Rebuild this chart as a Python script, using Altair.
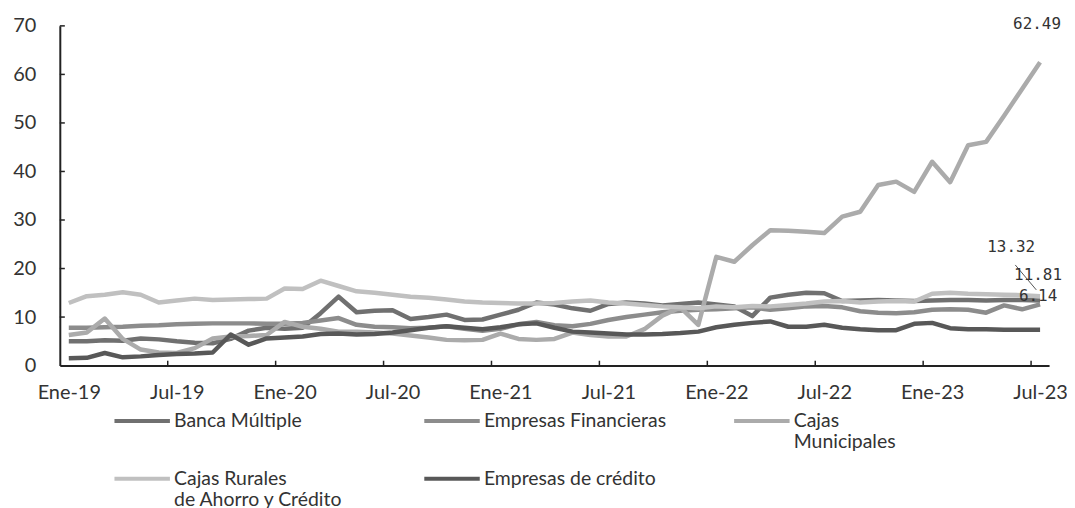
import json
import altair as alt
import pandas as pd

meses = ["Ene", "Feb", "Mar", "Abr", "May", "Jun", "Jul", "Ago", "Set", "Oct", "Nov", "Dic"]
periodos = [f"{m}-{a}" for a in ["19", "20", "21", "22", "23"] for m in meses][:55]

series = ["Banca Múltiple", "Empresas Financieras", "Cajas Municipales",
          "Cajas Rurales de Ahorro y Crédito", "Empresas de crédito"]
colores = ["#707070", "#8c8c8c", "#ababab", "#c0c0c0", "#585858"]

banca_multiple = [5.0, 5.0, 5.2, 5.1, 5.6, 5.4, 5.0, 4.7, 4.6, 5.5,
                  7.2, 7.8, 7.6, 7.8, 10.8, 14.2, 11.0, 11.3, 11.4, 9.6,
                  10.0, 10.5, 9.4, 9.5, 10.5, 11.5, 13.0, 12.6, 11.8, 11.3,
                  12.7, 13.0, 12.8, 12.4, 12.7, 13.0, 12.6, 12.2, 10.2, 14.0,
                  14.6, 15.0, 14.9, 13.3, 13.4, 13.5, 13.4, 13.3, 13.4, 13.5,
                  13.5, 13.4, 13.5, 13.5, 13.4]
empresas_financieras = [7.8, 7.8, 7.9, 8.0, 8.2, 8.3, 8.5, 8.6, 8.7, 8.7,
                        8.7, 8.6, 8.6, 8.8, 9.3, 9.8, 8.4, 8.0, 7.9, 7.7,
                        7.8, 8.1, 7.6, 7.2, 7.6, 8.5, 9.0, 8.3, 8.1, 8.6,
                        9.4, 10.0, 10.5, 11.0, 11.3, 11.5, 11.6, 11.8, 12.0, 11.5,
                        11.8, 12.2, 12.3, 12.0, 11.2, 10.9, 10.8, 11.0, 11.5, 11.6,
                        11.5, 10.9, 12.4, 11.6, 12.6]
cajas_municipales = [6.3, 6.8, 9.7, 5.5, 3.3, 2.7, 2.6, 3.6, 5.6, 6.0,
                     6.1, 6.3, 9.0, 8.0, 7.6, 7.0, 7.0, 6.8, 6.6, 6.2,
                     5.8, 5.3, 5.2, 5.3, 6.6, 5.5, 5.3, 5.5, 6.8, 6.3,
                     6.0, 6.0, 7.5, 10.3, 12.0, 8.4, 22.4, 21.4, 24.8, 27.9,
                     27.8, 27.6, 27.3, 30.7, 31.7, 37.2, 37.9, 35.8, 42.0, 37.8,
                     45.4, 46.1, 51.5, 57.0, 62.49]
cajas_rurales = [12.9, 14.3, 14.6, 15.1, 14.6, 13.0, 13.4, 13.8, 13.5, 13.6,
                 13.7, 13.8, 15.9, 15.8, 17.5, 16.4, 15.3, 15.0, 14.6, 14.2,
                 14.0, 13.6, 13.2, 13.0, 12.9, 12.8, 12.8, 12.9, 13.2, 13.4,
                 13.0, 12.8, 12.5, 12.2, 12.0, 11.8, 12.2, 12.0, 12.3, 12.2,
                 12.5, 12.8, 13.2, 13.3, 13.0, 13.2, 13.3, 13.2, 14.8, 15.0,
                 14.8, 14.7, 14.6, 14.5, 14.3]
empresas_credito = [1.5, 1.6, 2.6, 1.7, 1.9, 2.2, 2.4, 2.5, 2.7, 6.4,
                    4.3, 5.6, 5.8, 6.0, 6.5, 6.6, 6.4, 6.5, 6.8, 7.3,
                    7.8, 8.1, 7.8, 7.5, 7.9, 8.5, 8.7, 7.8, 7.0, 6.8,
                    6.6, 6.4, 6.4, 6.5, 6.7, 7.0, 7.9, 8.4, 8.8, 9.1,
                    8.0, 8.0, 8.4, 7.8, 7.5, 7.3, 7.3, 8.6, 8.8, 7.7,
                    7.5, 7.5, 7.4, 7.4, 7.4]

valores = [banca_multiple, empresas_financieras, cajas_municipales, cajas_rurales, empresas_credito]

etiquetas_texto = ["62.49", "13.32", "11.81", "6.14"]
etiquetas_valor = [62.49, 13.32, 11.81, 6.14]

y_ticks = [0, 10, 20, 30, 40, 50, 60, 70]
x_label_idx = list(range(0, 55, 6))

rows = []
for name, vals in zip(series, valores):
    for i, v in enumerate(vals):
        rows.append({"serie": name, "t": i + 0.5, "valor": v})
df = pd.DataFrame(rows)

FONT = "Lato"
TXT = "#333333"

xscale = alt.Scale(domain=[0, 55], nice=False, zero=False)
yscale = alt.Scale(domain=[0, 70], nice=False)

label_expr = json.dumps(periodos) + "[floor(datum.value)]"
# every legend label has two lines so all entries share the same layout
legend_expr = ("datum.label == 'Cajas Municipales' ? ['Cajas', 'Municipales'] : "
               "datum.label == 'Cajas Rurales de Ahorro y Crédito' ? ['Cajas Rurales', 'de Ahorro y Crédito'] : [datum.label, '']")

lines = alt.Chart(df).mark_line(strokeWidth=4.5, strokeJoin="round").encode(
    x=alt.X("t:Q", scale=xscale, title=None,
            axis=alt.Axis(values=[i + 0.5 for i in x_label_idx], labelExpr=label_expr,
                          ticks=False, grid=False, labelFont=FONT, labelFontSize=20,
                          labelColor=TXT, labelPadding=17, domainColor="#222222",
                          domainWidth=2, labelFlush=False)),
    y=alt.Y("valor:Q", scale=yscale, title=None,
            axis=alt.Axis(values=y_ticks, ticks=False, grid=False, labelFont=FONT,
                          labelFontSize=20, labelColor=TXT, labelPadding=24,
                          domainColor="#222222", domainWidth=2)),
    color=alt.Color("serie:N", scale=alt.Scale(domain=series, range=colores), sort=series,
                    legend=alt.Legend(orient="none", legendX=55.7, legendY=369.6,
                                      direction="horizontal", columns=3, title=None,
                                      symbolType="M-1.12,0H1.12", symbolSize=2470,
                                      symbolStrokeWidth=4, labelFont=FONT,
                                      labelFontSize=19.5, labelColor=TXT,
                                      labelExpr=legend_expr, labelLimit=400,
                                      gridAlign="all", columnPadding=59, rowPadding=0,
                                      padding=0, labelOffset=5)),
    order=alt.Order("t:Q"),
)

xt = pd.DataFrame({"t": [float(i) for i in x_label_idx[1:]]})
xticks = alt.Chart(xt).mark_rule(color="#222222", strokeWidth=1.5).encode(
    x=alt.X("t:Q", scale=xscale), y=alt.datum(0), y2=alt.datum(1.0))

yt = pd.DataFrame({"v": y_ticks[1:]})
yticks = alt.Chart(yt).mark_rule(color="#222222", strokeWidth=1.5).encode(
    y=alt.Y("v:Q", scale=yscale), x=alt.datum(0), x2=alt.datum(0.28))

ann = pd.DataFrame({"texto": etiquetas_texto, "valor": etiquetas_valor, "t": [54.5] * 4})
offsets = [(-3, -38), (-29, -54), (-2, -33), (-2, -40)]
texts = []
for k, (dx, dy) in enumerate(offsets):
    texts.append(alt.Chart(ann.iloc[[k]]).mark_text(font="DejaVu Sans Mono", fontSize=16,
                                                     color=TXT, dx=dx, dy=dy).encode(
        x=alt.X("t:Q", scale=xscale), y=alt.Y("valor:Q", scale=yscale), text="texto:N"))

leader = alt.Chart(pd.DataFrame({"a": [1]})).mark_rule(color="#555555", strokeWidth=1).encode(
    x=alt.datum(53.12), x2=alt.datum(54.29), y=alt.datum(20.74), y2=alt.datum(15.6))

chart = alt.layer(lines, xticks, yticks, leader, *texts).properties(
    width=993, height=341,
    autosize=alt.AutoSizeParams(type="none"),
    padding={"left": 52, "top": 17, "right": 18, "bottom": 142},
    background="white",
).configure_view(stroke=None)

chart.save("out.html", embed_options={"renderer": "svg", "actions": False})
